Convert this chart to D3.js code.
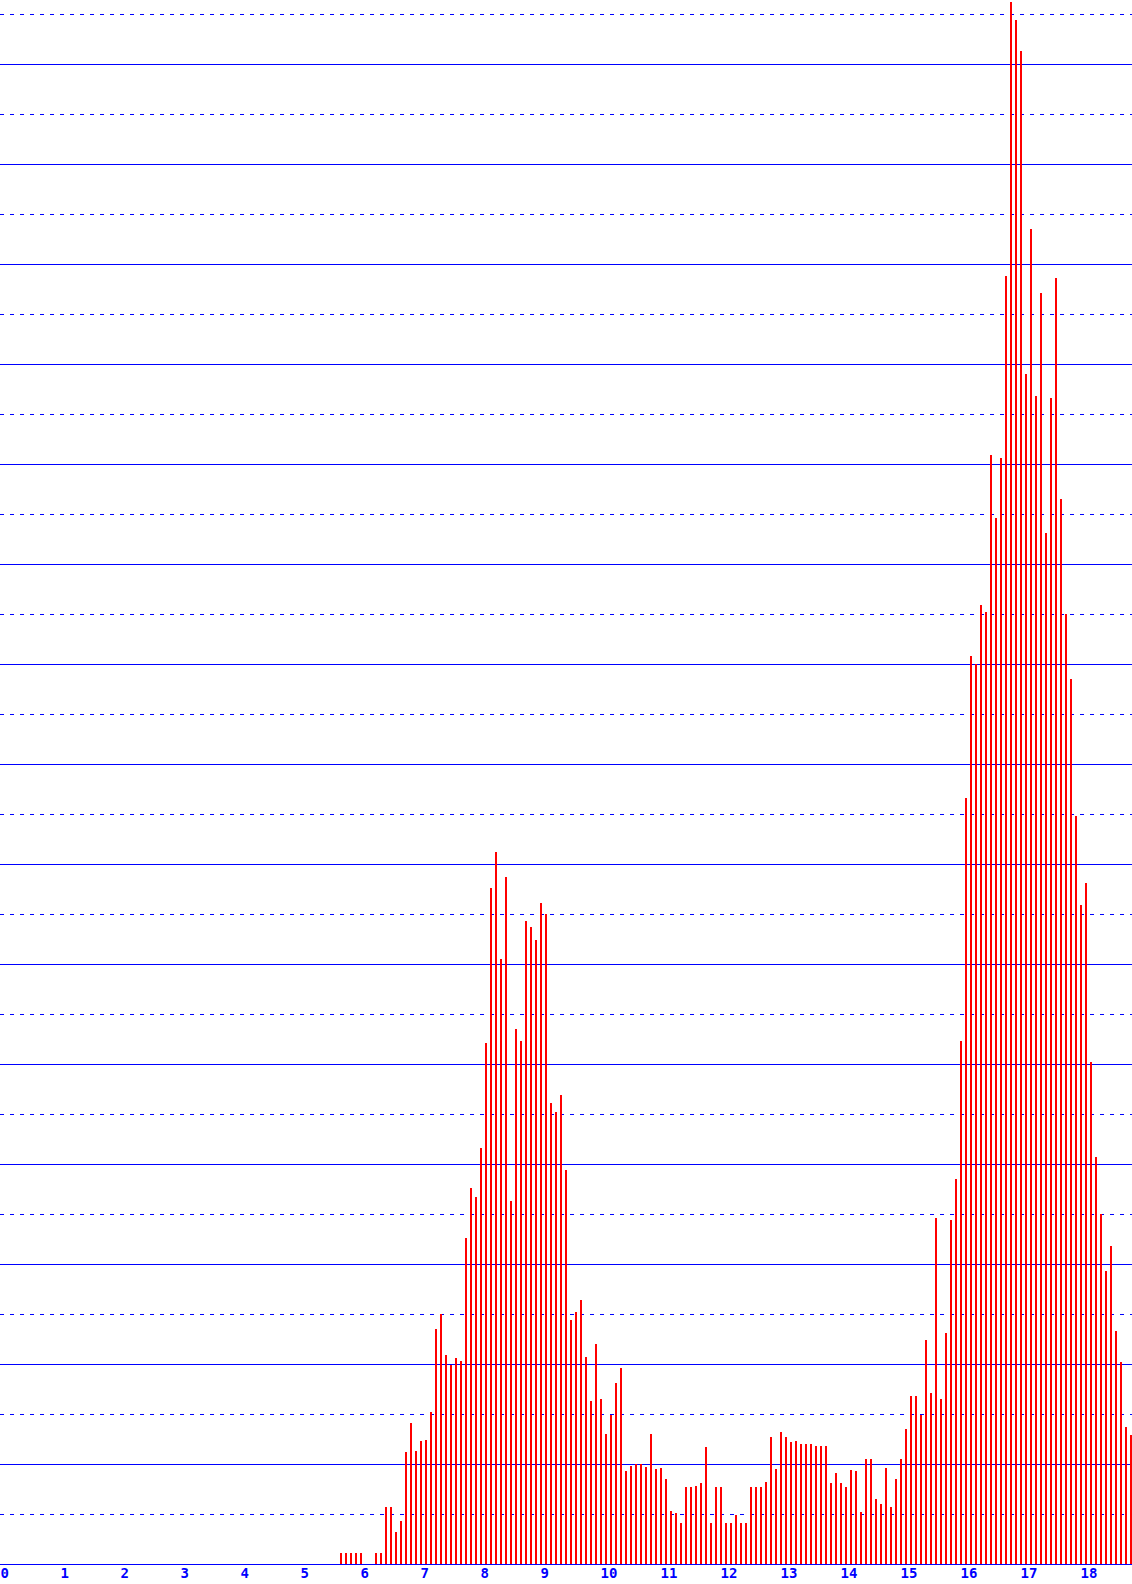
<!DOCTYPE html>
<html>
<head>
<meta charset="utf-8">
<script src="https://cdn.jsdelivr.net/npm/d3@7"></script>
<style>
  html, body { margin: 0; padding: 0; background: #ffffff; }
  svg { display: block; }
</style>
</head>
<body>
<svg id="chart" width="1132" height="1584"></svg>
<script>
// ---- data ----
// first bin start (x units) and bin width
const binStart = 68 / 12;
const binWidth = 1 / 12;
// bar heights, one per bin, in chart units (grid step = 50)
const counts = [
  11, 11, 11, 11, 11, 0, 0, 11, 11, 57, 57, 32, 43, 112, 141, 113, 123, 124, 152, 235,
  250, 209, 199, 206, 203, 326, 376, 367, 416, 521, 676, 712, 605, 687, 363, 535, 523, 643, 637, 624,
  661, 650, 461, 452, 469, 394, 244, 252, 264, 207, 163, 220, 165, 130, 149, 181, 196, 93, 98, 100,
  100, 97, 130, 95, 96, 85, 53, 51, 41, 77, 77, 78, 81, 117, 41, 77, 77, 41, 41, 49,
  41, 41, 77, 77, 77, 82, 127, 95, 132, 127, 122, 123, 120, 120, 120, 118, 118, 118, 81, 91,
  81, 77, 94, 93, 52, 105, 105, 65, 60, 96, 57, 85, 105, 135, 168, 168, 149, 224, 171, 346,
  165, 231, 344, 385, 523, 766, 908, 900, 959, 952, 1109, 1046, 1106, 1288, 1562, 1544, 1513, 1190, 1335, 1168,
  1271, 1031, 1166, 1286, 1065, 950, 885, 748, 659, 681, 502, 407, 350, 293, 318, 233, 202, 137, 129
];
const xTickLabels = ["0","1","2","3","4","5","6","7","8","9","10","11","12","13","14","15","16","17","18"];
const gridStep = 50;

// ---- layout ----
const W = 1132, H = 1584;
const baseY = 1564;
const svg = d3.select("#chart");

const x = d3.scaleLinear().domain([0, W / 60]).range([0, W]);
const y = d3.scaleLinear().domain([0, baseY]).range([baseY, 0]);

// gridlines
const gridVals = d3.range(gridStep, baseY, gridStep);
svg.append("g").selectAll("line")
  .data(gridVals)
  .join("line")
  .attr("x1", 0).attr("x2", W)
  .attr("y1", d => Math.round(y(d)) + 0.5)
  .attr("y2", d => Math.round(y(d)) + 0.5)
  .attr("stroke", "#0000ff")
  .attr("stroke-width", 1)
  .attr("stroke-dasharray", d => (Math.round(d / gridStep) % 2 === 1) ? "4,6" : null)
  .attr("shape-rendering", "crispEdges");

// bars
svg.append("g").selectAll("rect")
  .data(counts)
  .join("rect")
  .attr("x", (d, i) => Math.round(x(binStart + i * binWidth)))
  .attr("width", 2)
  .attr("y", d => y(d))
  .attr("height", d => baseY - y(d))
  .attr("fill", "#ff0000")
  .attr("shape-rendering", "crispEdges");

// baseline
svg.append("line")
  .attr("x1", 0).attr("x2", W)
  .attr("y1", y(0) + 0.5).attr("y2", y(0) + 0.5)
  .attr("stroke", "#0000ff")
  .attr("stroke-width", 1)
  .attr("shape-rendering", "crispEdges");

// x axis labels
const axis = d3.axisBottom(x)
  .tickValues(xTickLabels.map((d, i) => i))
  .tickFormat((d, i) => xTickLabels[i])
  .tickSize(0);
const gx = svg.append("g").attr("transform", `translate(0,${baseY})`).call(axis);
gx.select(".domain").remove();
gx.selectAll("text")
  .attr("text-anchor", "start")
  .attr("y", 13.5)
  .attr("dy", null)
  .attr("fill", "#0000ff")
  .style("font-family", "'DejaVu Sans Mono', monospace")
  .style("font-weight", "bold")
  .style("font-size", "14px");
</script>
</body>
</html>
